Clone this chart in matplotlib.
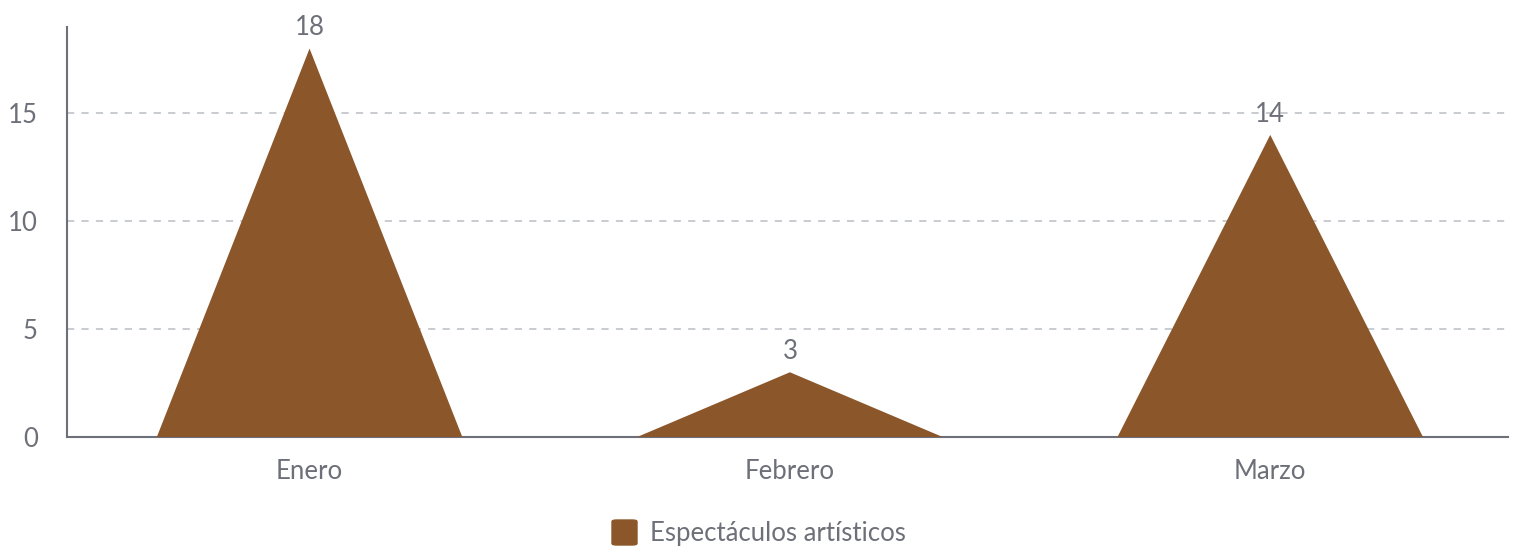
import matplotlib.pyplot as plt
from matplotlib.patches import FancyBboxPatch

categories = ["Enero", "Febrero", "Marzo"]
values = [18, 3, 14]
series_name = "Espectáculos artísticos"
yticks = [0, 5, 10, 15]

color = "#8B572A"
txt = "#6E7079"
plt.rcParams['font.family'] = ['Lato', 'DejaVu Sans']

fig = plt.figure(figsize=(15.16, 5.49), dpi=100)
ax = fig.add_axes([67/1516, (549-437)/549, (1508-67)/1516, (437-27)/549])

half = 0.318
for i, v in enumerate(values):
    ax.fill([i - half, i, i + half], [0, v, 0], color=color, lw=0, zorder=3)
    ax.annotate(str(v), (i, v), xytext=(0, 6), textcoords="offset points",
                ha="center", va="bottom", fontsize=18.5, color=txt, zorder=4)

ax.set_xlim(-0.505, len(categories) - 0.505)
ax.set_ylim(0, 19)
ax.set_xticks(range(len(categories)))
ax.set_xticklabels(categories)
ax.set_yticks(yticks)
ax.tick_params(axis="both", length=0, labelsize=18.5, colors=txt)
ax.tick_params(axis="x", pad=16)
ax.tick_params(axis="y", pad=21)

for y in yticks[1:]:
    ax.axhline(y, color="#C4C7CC", lw=1.3, ls=(0, (4, 4)), zorder=1)

for s in ["top", "right"]:
    ax.spines[s].set_visible(False)
ax.spines["left"].set_color(txt)
ax.spines["bottom"].set_color(txt)
ax.spines["left"].set_linewidth(1.5)
ax.spines["bottom"].set_linewidth(1.5)

# legend
fig.patches.append(FancyBboxPatch((612/1516, (549-545)/549), 25/1516, 25/549,
                                  boxstyle="round,pad=0,rounding_size=0.003",
                                  transform=fig.transFigure, color=color))
fig.text(650/1516, (549-533)/549, series_name, ha="left", va="center",
         fontsize=18.5, color=txt)

fig.savefig("out.png", dpi=100)
